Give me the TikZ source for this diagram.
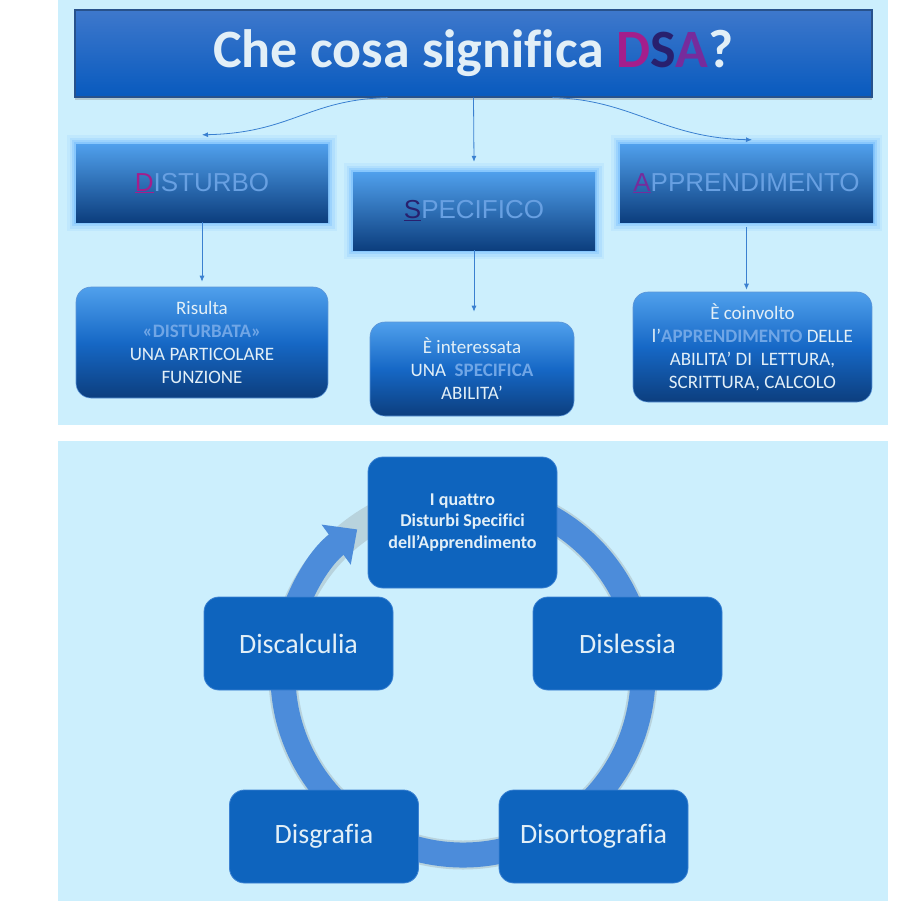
\documentclass[tikz,border=0pt]{standalone}
\usepackage{fontspec}
\setmainfont{Carlito}[Ligatures=NoCommon]
\newfontfamily\arialfont{Liberation Sans}
\usetikzlibrary{arrows.meta,calc,shadows}

\definecolor{panelbg}{RGB}{204,239,253}
\definecolor{linkblue}{RGB}{58,128,208}
\definecolor{titletop}{RGB}{62,120,204}
\definecolor{titlebot}{RGB}{8,90,190}
\definecolor{titleedge}{RGB}{40,82,140}
\definecolor{boxtop}{RGB}{80,160,236}
\definecolor{boxmid}{RGB}{22,104,198}
\definecolor{boxbot}{RGB}{12,62,126}
\definecolor{glowblue}{RGB}{110,185,255}
\definecolor{capblue}{RGB}{104,160,226}
\definecolor{hlblue}{RGB}{112,166,230}
\definecolor{paletext}{RGB}{226,239,247}
\definecolor{letterD}{RGB}{164,30,140}
\definecolor{letterS}{RGB}{40,32,110}
\definecolor{letterA}{RGB}{118,44,156}
\definecolor{cellblue}{RGB}{14,100,190}
\definecolor{celledge}{RGB}{60,130,210}
\definecolor{ringblue}{RGB}{76,140,218}

\tikzset{
  titlebox/.style={draw=titleedge, line width=1.2pt, top color=titletop, bottom color=titlebot,
    minimum width=797pt, minimum height=87pt, inner sep=0pt, text=paletext,
    font=\bfseries\fontsize{54}{60}\selectfont,
    drop shadow={shadow xshift=0pt, shadow yshift=-3pt, opacity=.35}},
  wordbox/.style={top color=boxtop, bottom color=boxbot, minimum height=78pt, inner sep=0pt,
    text=capblue, font=\arialfont\fontsize{26}{30}\selectfont,
    preaction={draw=glowblue, line width=18pt, opacity=.12, rounded corners=8pt},
    preaction={draw=glowblue, line width=13pt, opacity=.18, rounded corners=6pt},
    preaction={draw=glowblue, line width=8pt, opacity=.3, rounded corners=4pt},
    preaction={draw=glowblue, line width=4pt, opacity=.45}},
  notebox/.style={rounded corners=15pt, top color=boxtop, bottom color=boxbot, middle color=boxmid,
    draw=boxmid!70!white, line width=.6pt, inner sep=0pt, align=center, text=paletext,
    font=\fontsize{19}{23}\selectfont},
  cyclebox/.style={rounded corners=15pt, fill=cellblue, draw=celledge, line width=.8pt,
    minimum width=189pt, minimum height=93pt, inner sep=0pt, align=center, text=paletext,
    font=\fontsize{28}{32}\selectfont},
  conn/.style={draw=linkblue, line width=.8pt, -{Latex[length=6pt,width=5pt]}},
  ring/.style={draw=ringblue, line width=25pt, line cap=butt, -{Triangle[width=48pt,length=26pt]}}
}
\newcommand{\hlword}[1]{\textbf{\color{hlblue}#1}}

\begin{document}
\begin{tikzpicture}[x=1pt, y=-1pt]
    \useasboundingbox (0,0) rectangle (906,906);
    \fill[white] (0,0) rectangle (906,906);
    % Panels
    \fill[panelbg] (58,0) rectangle (888,425);
    \fill[panelbg] (58,441) rectangle (888,901);

    % Title
    \node[titlebox] (title) at (473.5,53.5)
        {Che cosa significa \textcolor{letterD}{D}\textcolor{letterS}{S}\textcolor{letterA}{A}?};

    % Three words
    \node[wordbox, minimum width=252pt] (dist) at (202,183)
        {\textcolor{letterD}{\underline{D}}ISTURBO};
    \node[wordbox, minimum width=242pt] (spec) at (474,211)
        {\textcolor{letterS}{\underline{S}}PECIFICO};
    \node[wordbox, minimum width=253pt] (appr) at (746.5,183)
        {\textcolor{letterA}{\underline{A}}PPRENDIMENTO};

    % Explanations
    \node[notebox, minimum width=252pt, minimum height=111pt] (note1) at (202,342.5)
        {Risulta\\ \hlword{«DISTURBATA»}\\ UNA PARTICOLARE\\ FUNZIONE};
    \node[notebox, minimum width=204pt, minimum height=94pt] (note2) at (472,369)
        {È interessata\\ UNA~~\hlword{SPECIFICA}\\ ABILITA’};
    \node[notebox, minimum width=239pt, minimum height=110pt] (note3) at (752.5,347)
        {È coinvolto\\ l’\hlword{APPRENDIMENTO} DELLE\\ ABILITA’ DI~~LETTURA,\\ SCRITTURA, CALCOLO};

    % Connectors
    \draw[conn] ([xshift=-86pt]title.south) .. controls +(-80,2) and +(90,-2) .. ([yshift=9pt]dist.north);
    \draw[conn] (title.south) -- ([yshift=10pt]spec.north);
    \draw[conn] ([xshift=79pt]title.south) .. controls +(80,2) and +(-90,-2) .. ([xshift=5.5pt,yshift=4pt]appr.north);
    \draw[conn] (dist.south) -- ([yshift=5pt]note1.north);
    \draw[conn] (spec.south) -- ($(spec.south |- note2.north)+(0pt,10pt)$);
    \draw[conn] ([yshift=-5pt]appr.south) -- ($(appr.south |- note3.north)+(0pt,2pt)$);

    % Cycle of the four disorders
    \coordinate (ctr) at (463,675);
    \draw[gray, opacity=.25, line width=29pt] (ctr) circle[radius=180pt];
    \draw[ring] ($(ctr)+(80:180pt)$) arc[start angle=80, end angle=-234, radius=180pt];

    \node[cyclebox, minimum height=131pt, font=\bfseries\fontsize{18}{21.5}\selectfont] (dsa) at (462.5,522.5)
        {I quattro\\ Disturbi Specifici\\ dell’Apprendimento};
    \node[cyclebox] (dlex) at (627.5,643.5) {Dislessia};
    \node[cyclebox] (dort) at (593.5,836.5) {Disortografia};
    \node[cyclebox] (dgra) at (324,836.5) {Disgrafia};
    \node[cyclebox] (dcal) at (298.5,643.5) {Discalculia};
\end{tikzpicture}
\end{document}
